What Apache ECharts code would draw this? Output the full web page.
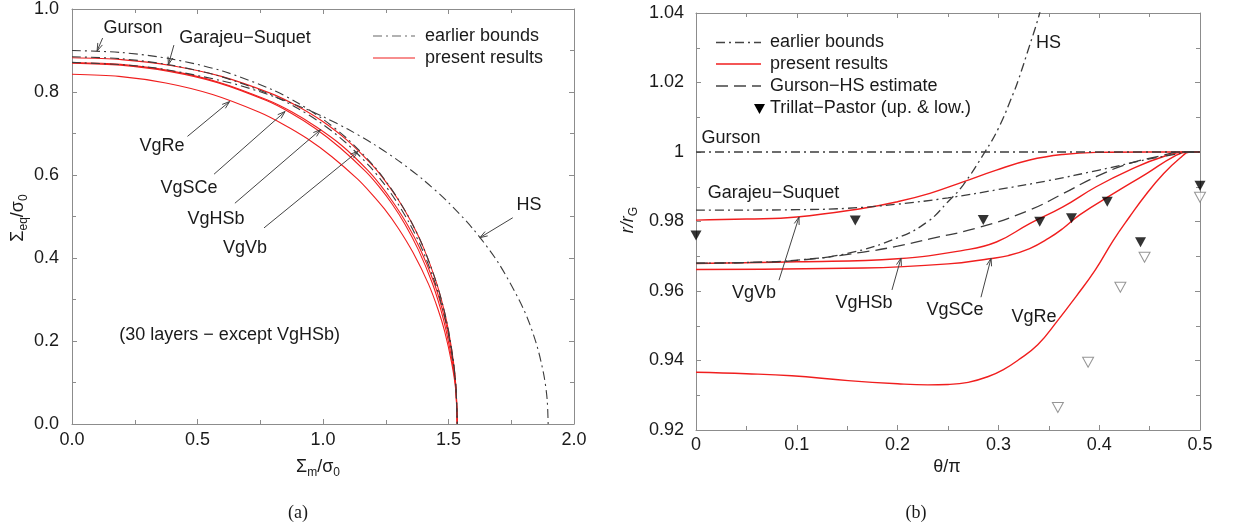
<!DOCTYPE html>
<html><head><meta charset="utf-8">
<script src="https://cdn.jsdelivr.net/npm/echarts@6/dist/echarts.min.js"></script>
<style>html,body{margin:0;padding:0;background:#fff}#c{width:1234px;height:528px}</style>
</head><body><div id="c"></div>
<script>
// ================= DATA =================
// Panel (a): [Σm/σ0, Σeq/σ0]
const aGurson = [[0,0.9],[0.2,0.895],[0.4,0.8792],[0.6,0.8505],[0.8,0.8049],[0.9,0.7735],[1.0,0.7345],[1.1,0.6856],[1.2,0.6233],[1.25,0.5853],[1.3,0.5412],[1.35,0.4891],[1.4,0.4256],[1.45,0.3441],[1.48,0.28],[1.5,0.2251],[1.52,0.1487],[1.53,0.0867],[1.535,0]];
const aGarajeuSuquet = [[0,0.885],[0.1967,0.8801],[0.3935,0.8649],[0.5909,0.8377],[0.7894,0.7943],[0.8891,0.7641],[0.9891,0.7265],[1.0893,0.6789],[1.19,0.6181],[1.2405,0.5809],[1.2912,0.5375],[1.342,0.4862],[1.3933,0.4236],[1.4449,0.3429],[1.4762,0.2793],[1.4973,0.2247],[1.5186,0.1486],[1.5294,0.0867],[1.535,0]];
const aHS = [[0,0.8714],[0.3,0.8605],[0.6,0.8267],[0.75,0.8004],[0.9,0.7671],[1.0,0.7406],[1.1,0.71],[1.2,0.6751],[1.3,0.6347],[1.4,0.5882],[1.5,0.5336],[1.6,0.4684],[1.7,0.387],[1.8,0.2756],[1.85,0.1935],[1.88,0.1176],[1.893,0.0591],[1.897,0]];
const aVgVb = [[0,0.8824],[0.1962,0.878],[0.393,0.8639],[0.5913,0.8382],[0.7918,0.7967],[0.8931,0.7675],[0.9948,0.7307],[1.0967,0.6835],[1.1983,0.6224],[1.2488,0.5847],[1.2994,0.5409],[1.3497,0.489],[1.4,0.4256],[1.45,0.3441],[1.48,0.28],[1.5,0.2251],[1.52,0.1487],[1.53,0.0867],[1.535,0]];
const aVgHSb = [[0,0.8711],[0.1936,0.8665],[0.3874,0.8515],[0.5815,0.8243],[0.7764,0.7812],[0.8752,0.7522],[0.9741,0.7155],[1.0758,0.6705],[1.1778,0.6118],[1.229,0.5755],[1.2805,0.5331],[1.3334,0.4831],[1.3871,0.4217],[1.4416,0.3421],[1.4741,0.2789],[1.4963,0.2245],[1.5188,0.1486],[1.5297,0.0867],[1.535,0]];
const aVgSCe = [[0,0.8696],[0.1933,0.8648],[0.3866,0.8497],[0.5803,0.8226],[0.7746,0.7793],[0.8719,0.7494],[0.9695,0.7121],[1.0681,0.6657],[1.1706,0.608],[1.2225,0.5724],[1.2747,0.5307],[1.3271,0.4808],[1.3801,0.4196],[1.4349,0.3405],[1.4682,0.2778],[1.491,0.2237],[1.5154,0.1483],[1.5288,0.0866],[1.535,0]];
const aVgRe = [[0,0.8429],[0.1872,0.8377],[0.3738,0.8217],[0.56,0.7939],[0.7466,0.7511],[0.8407,0.7225],[0.9367,0.688],[1.0343,0.6447],[1.137,0.5906],[1.1899,0.5571],[1.2448,0.5182],[1.3006,0.4712],[1.3587,0.413],[1.4204,0.3371],[1.4584,0.2759],[1.485,0.2228],[1.5124,0.148],[1.5279,0.0866],[1.535,0]];
const aXTickLabels = ['0.0','0.5','1.0','1.5','2.0'];
const aYTickLabels = ['0.0','0.2','0.4','0.6','0.8','1.0'];

// Panel (b): [θ/π, r/rG]
const bGurson = [[0,1],[0.5,1]];
const bGarajeuSuquet = [[0,0.9833],[0.05,0.9833],[0.1,0.9834],[0.15,0.9838],[0.2,0.985],[0.25,0.9868],[0.3,0.9892],[0.35,0.9918],[0.4,0.9948],[0.45,0.998],[0.475,0.9993],[0.49,1.0],[0.5,1.0]];
const bHS = [[0,0.968],[0.05,0.9682],[0.1,0.9689],[0.15,0.9708],[0.2,0.9753],[0.23,0.98],[0.25,0.9857],[0.265,0.9905],[0.2866,1.0],[0.3,1.0068],[0.315,1.017],[0.32,1.0209],[0.33,1.0298],[0.34,1.039],[0.35,1.05]];
const bGursonHS = [[0,0.968],[0.05,0.9682],[0.1,0.9688],[0.166,0.9712],[0.2,0.9729],[0.232,0.975],[0.281,0.9783],[0.331,0.9833],[0.364,0.988],[0.397,0.9929],[0.43,0.9967],[0.464,0.9991],[0.48,1.0],[0.5,1.0]];
const bVgVb = [[0,0.9804],[0.05,0.9807],[0.1,0.9813],[0.166,0.9838],[0.2,0.9857],[0.232,0.9881],[0.265,0.9914],[0.298,0.9948],[0.331,0.9977],[0.364,0.9993],[0.397,0.9999],[0.45,1.0],[0.5,1.0]];
const bVgHSb = [[0,0.9679],[0.1,0.9684],[0.2,0.9693],[0.265,0.9717],[0.298,0.9741],[0.331,0.9794],[0.364,0.9842],[0.397,0.99],[0.43,0.9948],[0.464,0.9987],[0.488,1.0],[0.5,1.0]];
const bVgSCe = [[0,0.9662],[0.166,0.9666],[0.25,0.9678],[0.291,0.9693],[0.31,0.9702],[0.331,0.9722],[0.35,0.9752],[0.364,0.978],[0.381,0.982],[0.414,0.988],[0.447,0.9938],[0.474,0.9987],[0.488,1.0],[0.5,1.0]];
const bVgRe = [[0,0.9366],[0.05,0.9362],[0.095,0.9356],[0.151,0.9342],[0.2,0.9333],[0.23,0.933],[0.25,0.9331],[0.27,0.9337],[0.29,0.9354],[0.305,0.9374],[0.32,0.9402],[0.339,0.9445],[0.358,0.9512],[0.377,0.9584],[0.396,0.966],[0.414,0.9746],[0.43,0.9813],[0.447,0.988],[0.464,0.9938],[0.48,0.9982],[0.49,1.0],[0.5,1.0]];
const bTrillatUpper = [[0,0.976],[0.158,0.9803],[0.285,0.9804],[0.341,0.9799],[0.3725,0.9809],[0.408,0.9857],[0.441,0.974],[0.5,0.9903]];
const bTrillatLower = [[0.359,0.9265],[0.389,0.9395],[0.421,0.9611],[0.445,0.9697],[0.5,0.987]];
const bXTickLabels = ['0','0.1','0.2','0.3','0.4','0.5'];
const bYTickLabels = ['0.92','0.94','0.96','0.98','1','1.02','1.04'];

// ================= STYLE / LAYOUT =================
const FONT = '"Liberation Sans", Arial, Helvetica, sans-serif';
const TXT = '#1a1a1a';
const AX = '#8c8c8c';
const RED = '#f01e1e';
const GRAY = '#3c3c3c';
const DASHDOT = [9,4,2,4];
const DASH = [12,6];

const annA = [
  {text:'Gurson', at:[0.243,0.954], from:[0.122,0.93], to:[0.1,0.899]},
  {text:'Garajeu\u2212Suquet', at:[0.689,0.930], from:[0.406,0.913], to:[0.384,0.866]},
  {text:'VgRe', at:[0.3586,0.669], from:[0.46,0.693], to:[0.628,0.777]},
  {text:'VgSCe', at:[0.466,0.568], from:[0.566,0.602], to:[0.849,0.753]},
  {text:'VgHSb', at:[0.574,0.494], from:[0.649,0.532], to:[0.991,0.7095]},
  {text:'VgVb', at:[0.689,0.425], from:[0.765,0.4725], to:[1.139,0.657]},
  {text:'HS', at:[1.821,0.5275], from:[1.756,0.497], to:[1.625,0.449]},
  {text:'(30 layers \u2212 except VgHSb)', at:[0.628,0.214]}
];
const annB = [
  {text:'HS', at:[0.3497,1.0313]},
  {text:'Gurson', at:[0.0347,1.004]},
  {text:'Garajeu\u2212Suquet', at:[0.0769,0.9881]},
  {text:'VgVb', at:[0.0575,0.9594], from:[0.0823,0.9631], to:[0.1022,0.9813]},
  {text:'VgHSb', at:[0.1667,0.9565], from:[0.1944,0.9603], to:[0.2034,0.9695]},
  {text:'VgSCe', at:[0.257,0.9545], from:[0.2827,0.9582], to:[0.2927,0.9694]},
  {text:'VgRe', at:[0.3353,0.9525]}
];

function xAx(grid, min, max, interval, pos, labels, margin) {
  return {
    type:'value', gridIndex:grid, min:min, max:max, interval:interval, position:pos,
    axisLine:{show:true, onZero:false, lineStyle:{color:AX, width:1}},
    axisTick:{show:true, inside:true, length:5, lineStyle:{color:AX}},
    minorTick:{show:true, splitNumber:2, length:4, lineStyle:{color:AX}},
    splitLine:{show:false}, minorSplitLine:{show:false},
    axisLabel: labels ? {show:true, margin:margin, fontSize:18, color:TXT, fontFamily:FONT,
      formatter:(v,i)=>labels[i]} : {show:false}
  };
}
function lineSeries(name, data, xi, color, width, type, sm) {
  return {type:'line', name:name, xAxisIndex:xi, yAxisIndex:xi, data:data,
    showSymbol:false, symbol:'none', smooth:sm,
    lineStyle:{color:color, width:width, type:type}, silent:true, z:type==='solid'?2:3};
}

const chart = echarts.init(document.getElementById('c'), null, {renderer:'canvas'});
const option = {
  animation:false,
  backgroundColor:'#ffffff',
  grid:[
    {left:72, top:7, width:502, height:417},
    {left:696, top:13, width:504, height:417}
  ],
  xAxis:[
    xAx(0,0,2,0.5,'bottom',aXTickLabels,7),
    xAx(0,0,2,0.5,'top',null),
    xAx(1,0,0.5,0.1,'bottom',bXTickLabels,6),
    xAx(1,0,0.5,0.1,'top',null)
  ],
  yAxis:[
    xAx(0,0,1,0.2,'left',aYTickLabels,13),
    xAx(0,0,1,0.2,'right',null),
    xAx(1,0.92,1.04,0.02,'left',bYTickLabels,12),
    xAx(1,0.92,1.04,0.02,'right',null)
  ],
  series:[
    lineSeries('present results', aVgVb, 0, RED, 1.1, 'solid', 0.3),
    lineSeries('present results', aVgHSb, 0, RED, 1.1, 'solid', 0.3),
    lineSeries('present results', aVgSCe, 0, RED, 1.1, 'solid', 0.3),
    lineSeries('present results', aVgRe, 0, RED, 1.1, 'solid', 0.3),
    lineSeries('earlier bounds', aGurson, 0, GRAY, 1.1, DASHDOT, 0.3),
    lineSeries('earlier bounds', aGarajeuSuquet, 0, GRAY, 1.1, DASHDOT, 0.3),
    lineSeries('earlier bounds', aHS, 0, GRAY, 1.1, DASHDOT, 0.3),

    lineSeries('present results', bVgVb, 2, RED, 1.4, 'solid', 0.45),
    lineSeries('present results', bVgHSb, 2, RED, 1.4, 'solid', 0.45),
    lineSeries('present results', bVgSCe, 2, RED, 1.4, 'solid', 0.45),
    lineSeries('present results', bVgRe, 2, RED, 1.4, 'solid', 0.45),
    lineSeries('earlier bounds', bGurson, 2, GRAY, 1.3, DASHDOT, 0),
    lineSeries('earlier bounds', bGarajeuSuquet, 2, GRAY, 1.3, DASHDOT, 0.45),
    lineSeries('earlier bounds', bHS, 2, GRAY, 1.3, DASHDOT, 0.45),
    lineSeries('Gurson\u2212HS estimate', bGursonHS, 2, GRAY, 1.3, DASH, 0.45),
    {type:'scatter', name:'Trillat\u2212Pastor (up.)', xAxisIndex:2, yAxisIndex:2, data:bTrillatUpper,
      symbol:'triangle', symbolRotate:180, symbolSize:[11,10], clip:false, silent:true, z:5,
      itemStyle:{color:'#000'}},
    {type:'scatter', name:'Trillat\u2212Pastor (low.)', xAxisIndex:2, yAxisIndex:2, data:bTrillatLower,
      symbol:'triangle', symbolRotate:180, symbolSize:[11,10], clip:false, silent:true, z:5,
      itemStyle:{color:'#fff', borderColor:'#7a7a7a', borderWidth:1}}
  ]
};
chart.setOption(option);

// ----- annotations, arrows, legends, titles -----
const g = [];
function txt(x, y, s, extra) {
  g.push({type:'text', x:x, y:y, silent:true, z:10,
    style:Object.assign({text:s, x:0, y:0, fill:TXT, fontSize:18, fontFamily:FONT,
      align:'center', verticalAlign:'middle'}, extra||{})});
}
function arrow(p0, p1) {
  const dx = p1[0]-p0[0], dy = p1[1]-p0[1];
  const L = Math.sqrt(dx*dx+dy*dy), ux = dx/L, uy = dy/L;
  const h = 8, a = 0.32;
  const c = Math.cos(a), s = Math.sin(a);
  const b1 = [p1[0] - h*(ux*c - uy*s), p1[1] - h*(uy*c + ux*s)];
  const b2 = [p1[0] - h*(ux*c + uy*s), p1[1] - h*(uy*c - ux*s)];
  g.push({type:'line', silent:true, z:9, shape:{x1:p0[0],y1:p0[1],x2:p1[0],y2:p1[1]}, style:{stroke:'#444', lineWidth:1}});
  g.push({type:'polyline', silent:true, z:9, shape:{points:[b1,p1,b2]}, style:{stroke:'#444', lineWidth:1, fill:null}});
}
function place(list, gi) {
  list.forEach(a => {
    const p = chart.convertToPixel({gridIndex:gi}, a.at);
    txt(p[0], p[1], a.text);
    if (a.from) arrow(chart.convertToPixel({gridIndex:gi}, a.from), chart.convertToPixel({gridIndex:gi}, a.to));
  });
}
place(annA, 0);
place(annB, 1);

function legLine(x1, x2, y, color, dash, w) {
  g.push({type:'line', silent:true, z:9, shape:{x1:x1,y1:y,x2:x2,y2:y},
    style:{stroke:color, lineWidth:w, lineDash:dash}});
}
function legText(x, y, s) {
  g.push({type:'text', x:x, y:y, silent:true, z:10,
    style:{text:s, x:0, y:0, fill:TXT, fontSize:18, fontFamily:FONT, align:'left', verticalAlign:'middle'}});
}
// legend (a)
legLine(373, 415, 36, '#666', DASHDOT, 1.2); legText(425, 36, 'earlier bounds');
legLine(373, 415, 58, RED, null, 1.2); legText(425, 58, 'present results');
// legend (b)
legLine(716, 761, 42.5, '#444', DASHDOT, 1.3); legText(770, 42.5, 'earlier bounds');
legLine(716, 761, 64, RED, null, 1.4); legText(770, 64, 'present results');
legLine(716, 761, 86, '#444', DASH, 1.3); legText(770, 86, 'Gurson\u2212HS estimate');
g.push({type:'polygon', silent:true, z:10, shape:{points:[[754,104],[765,104],[759.5,114]]}, style:{fill:'#000'}});
legText(770, 108.5, 'Trillat\u2212Pastor (up. & low.)');

// axis titles
const rich = {
  m:{fontSize:18, fontFamily:FONT, fill:TXT, lineHeight:24, verticalAlign:'middle'},
  s:{fontSize:12, fontFamily:FONT, fill:TXT, lineHeight:12, verticalAlign:'bottom'},
  mi:{fontSize:18, fontFamily:FONT, fill:TXT, lineHeight:24, verticalAlign:'middle', fontStyle:'italic'}
};
txt(318, 467, '{m|\u03A3}{s|m}{m|/\u03C3}{s|0}', {rich:rich});
g.push({type:'text', x:18, y:218, rotation:Math.PI/2, silent:true, z:10,
  style:{text:'{m|\u03A3}{s|eq}{m|/\u03C3}{s|0}', rich:rich, x:0, y:0, align:'center', verticalAlign:'middle', fill:TXT, fontSize:18, fontFamily:FONT}});
txt(947, 467, '\u03B8/\u03C0');
g.push({type:'text', x:628, y:220, rotation:Math.PI/2, silent:true, z:10,
  style:{text:'{mi|r/r}{s|G}', rich:rich, x:0, y:0, align:'center', verticalAlign:'middle', fill:TXT, fontSize:18, fontFamily:FONT}});
txt(298, 513, '(a)', {fontFamily:'"Liberation Serif", "Times New Roman", serif'});
txt(916, 513, '(b)', {fontFamily:'"Liberation Serif", "Times New Roman", serif'});

chart.setOption({graphic:{elements:g}});
</script>
</body></html>
